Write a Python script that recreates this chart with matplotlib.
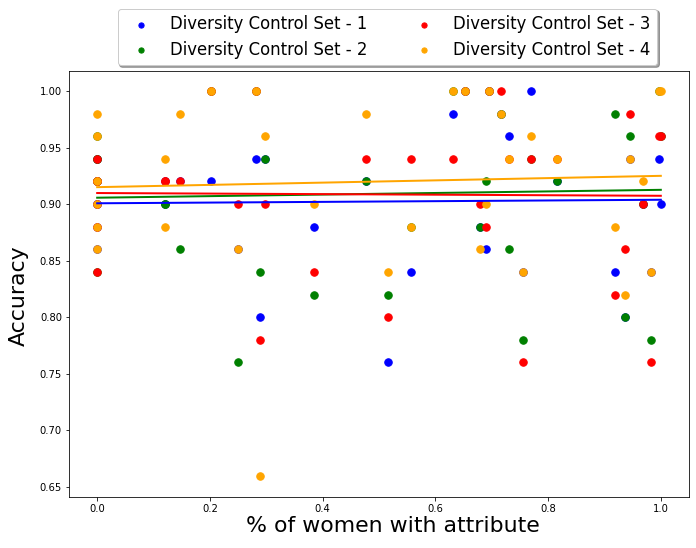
import numpy as np
import matplotlib
matplotlib.use("Agg")
import matplotlib.pyplot as plt

# % of women with the attribute, one entry per attribute
pct_women = [0.0, 0.0, 0.0, 0.0, 0.0, 0.0,
             0.12, 0.12, 0.147, 0.202, 0.25, 0.282, 0.289, 0.298,
             0.385, 0.477, 0.516, 0.557, 0.631, 0.653, 0.679, 0.69,
             0.696, 0.716, 0.73, 0.755, 0.77, 0.815, 0.918, 0.936,
             0.945, 0.968, 0.982, 0.996, 1.0]

# accuracy of each diversity control set for each attribute
acc_set1 = [0.90, 0.92, 0.86, 0.88, 0.94, 0.90,
            0.90, 0.92, 0.92, 0.92, 0.86, 0.94, 0.80, 0.94,
            0.88, 0.92, 0.76, 0.84, 0.98, 1.00, 0.88, 0.86,
            1.00, 0.98, 0.96, 0.84, 1.00, 0.92, 0.84, 0.80,
            0.94, 0.90, 0.84, 0.94, 0.90]
acc_set2 = [0.96, 0.84, 0.92, 0.94, 0.92, 0.94,
            0.90, 0.90, 0.86, 1.00, 0.76, 1.00, 0.84, 0.94,
            0.82, 0.92, 0.82, 0.88, 1.00, 1.00, 0.88, 0.92,
            1.00, 0.98, 0.86, 0.78, 0.94, 0.92, 0.98, 0.80,
            0.96, 0.90, 0.78, 1.00, 0.96]
acc_set3 = [0.94, 0.92, 0.88, 0.84, 0.90, 0.92,
            0.92, 0.92, 0.92, 1.00, 0.90, 1.00, 0.78, 0.90,
            0.84, 0.94, 0.80, 0.94, 0.94, 1.00, 0.90, 0.88,
            1.00, 1.00, 0.94, 0.76, 0.94, 0.94, 0.82, 0.86,
            0.98, 0.90, 0.76, 0.96, 0.96]
acc_set4 = [0.98, 0.96, 0.92, 0.90, 0.88, 0.86,
            0.94, 0.88, 0.98, 1.00, 0.86, 1.00, 0.66, 0.96,
            0.90, 0.98, 0.84, 0.88, 1.00, 1.00, 0.86, 0.90,
            1.00, 0.98, 0.94, 0.84, 0.96, 0.94, 0.88, 0.82,
            0.94, 0.92, 0.84, 1.00, 1.00]

labels = ["Diversity Control Set - 1", "Diversity Control Set - 2",
          "Diversity Control Set - 3", "Diversity Control Set - 4"]
colors = ["blue", "green", "red", "orange"]
all_acc = [acc_set1, acc_set2, acc_set3, acc_set4]

fig = plt.figure(figsize=(696 / 72, 548 / 72), dpi=72)
ax = fig.add_axes([69 / 696, 1 - 497 / 548, 620 / 696, 426 / 548])

x = np.array(pct_women)

# scatter of every set first
for acc, c, lab in zip(all_acc, colors, labels):
    ax.scatter(x, acc, color=c, s=56, label=lab, zorder=2)

# then the linear fit for each set
xs = np.array([x.min(), x.max()])
for acc, c in zip(all_acc, colors):
    slope, intercept = np.polyfit(x, acc, 1)
    ax.plot(xs, slope * xs + intercept, color=c, linewidth=2, zorder=3)

ax.set_ylim(0.641, 1.0177)
ax.set_yticks(np.arange(0.65, 1.001, 0.05))
ax.set_xlabel("% of women with attribute", fontsize=22)
ax.set_ylabel("Accuracy", fontsize=22)
ax.xaxis.set_label_coords(0.523, -0.045)
ax.yaxis.set_label_coords(-0.065, 0.472)

fig.legend(loc="center", bbox_to_anchor=(387.5 / 696, 1 - 37 / 548),
           ncol=2, fontsize=16.5, shadow=True, markerscale=0.7,
           columnspacing=2.4, labelspacing=0.45)

fig.savefig("out.png", dpi=72)
